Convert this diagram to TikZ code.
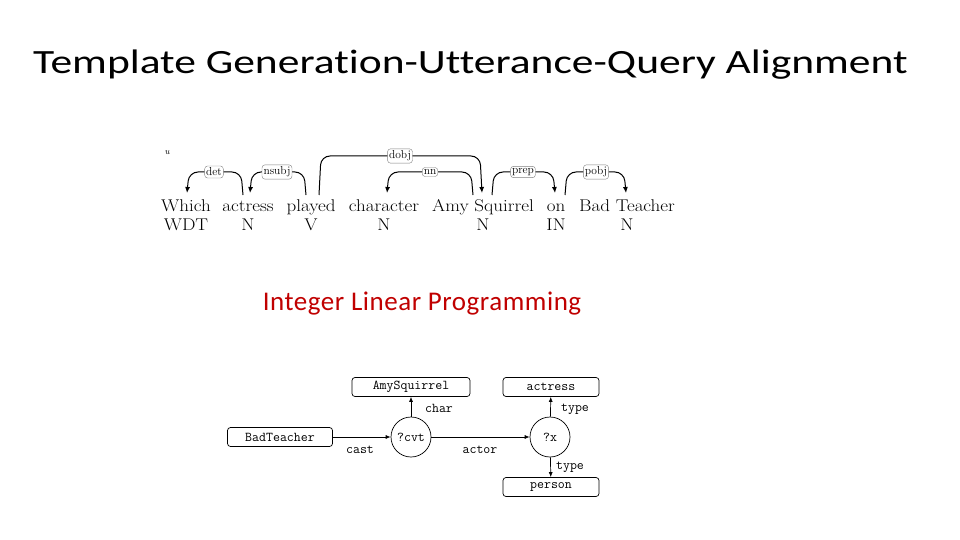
\documentclass[tikz,border=0pt]{standalone}
\usepackage{fontspec}
\newfontfamily\titlefont[Ligatures=NoCommon]{Carlito}
\newfontfamily\ilpfont[Ligatures=NoCommon,LetterSpace=2]{Carlito}
\usetikzlibrary{arrows.meta}
\definecolor{ilpred}{RGB}{192,0,0}
\newcommand{\depwd}[1]{\scalebox{1.12}[1]{#1}}
\begin{document}
\begin{tikzpicture}[x=1pt,y=-1pt,
  word/.style={anchor=base,inner sep=0pt,font=\fontsize{17}{17}\selectfont},
  deplab/.style={draw=gray,fill=white,rounded corners=3pt,inner xsep=1.5pt,inner ysep=2pt,font=\fontsize{11.5}{12}\selectfont},
  arc/.style={rounded corners=9pt,line width=1pt,-{Latex[length=6pt,width=5pt]}},
  kbox/.style={draw,rounded corners=3pt,line width=0.7pt,minimum width=#1,minimum height=19pt,inner sep=0pt,font=\ttfamily\fontsize{13.5}{14}\selectfont},
  kvar/.style={draw,circle,line width=0.7pt,minimum size=40pt,inner sep=0pt,font=\ttfamily\fontsize{13.5}{14}\selectfont},
  kedge/.style={line width=0.7pt,-{Latex[length=5pt,width=4pt]}},
  klab/.style={font=\ttfamily\fontsize{13.5}{14}\selectfont,inner sep=0pt}
]
\useasboundingbox (0,0) rectangle (960,540);
% title
\node[anchor=base west,inner sep=0pt,font=\titlefont\fontsize{34}{36}\selectfont] (title) at (33,74) {\scalebox{1.28}[1]{Template Generation-Utterance-Query Alignment}};
% dependency parse
\node[anchor=base,inner sep=0pt,font=\itshape\fontsize{9}{9}\selectfont] (u) at (167,155) {u};
\node[word] (w1) at (186,211) {\depwd{Which}};
\node[word] (w2) at (248,211) {\depwd{actress}};
\node[word] (w3) at (311,211) {\depwd{played}};
\node[word] (w4) at (384,211) {\depwd{character}};
\node[word] (w5) at (483,211) {\depwd{Amy Squirrel}};
\node[word] (w6) at (556,211) {\depwd{on}};
\node[word] (w7) at (627,211) {\depwd{Bad Teacher}};
\node[word] (p1) at (186,230) {\depwd{WDT}};
\node[word] (p2) at (248,230) {\depwd{N}};
\node[word] (p3) at (311,230) {\depwd{V}};
\node[word] (p4) at (384,230) {\depwd{N}};
\node[word] (p5) at (483,230) {\depwd{N}};
\node[word] (p6) at (556,230) {\depwd{IN}};
\node[word] (p7) at (627,230) {\depwd{N}};
% arcs
\coordinate (a1s) at (243,195); \coordinate (a1e) at (187,193);
\coordinate (a2s) at (306,195); \coordinate (a2e) at (250,193);
\coordinate (a3s) at (319,195); \coordinate (a3e) at (482,193);
\coordinate (a4s) at (473,195); \coordinate (a4e) at (387,193);
\coordinate (a5s) at (492,195); \coordinate (a5e) at (555,193);
\coordinate (a6s) at (565,195); \coordinate (a6e) at (626,193);
\draw[arc] (a1s) -- ([xshift=-2]a1s |- 0,172) -- ([xshift=2]a1e |- 0,172) -- (a1e);
\draw[arc] (a2s) -- ([xshift=-2]a2s |- 0,172) -- ([xshift=2]a2e |- 0,172) -- (a2e);
\draw[arc] (a3s) -- ([xshift=2]a3s |- 0,156) -- ([xshift=-2]a3e |- 0,156) -- (a3e);
\draw[arc] (a4s) -- ([xshift=-2]a4s |- 0,172) -- ([xshift=2]a4e |- 0,172) -- (a4e);
\draw[arc] (a5s) -- ([xshift=2]a5s |- 0,172) -- ([xshift=-2]a5e |- 0,172) -- (a5e);
\draw[arc] (a6s) -- ([xshift=2]a6s |- 0,172) -- ([xshift=-2]a6e |- 0,172) -- (a6e);
\node[deplab] (l1) at (214,172) {det};
\node[deplab] (l2) at (277,172) {nsubj};
\node[deplab] (l3) at (400,156) {dobj};
\node[deplab] (l4) at (430,172) {nn};
\node[deplab] (l5) at (523,172) {prep};
\node[deplab] (l6) at (596,172) {pobj};
% ILP
\node[anchor=base,inner sep=0pt,text=ilpred,font=\ilpfont\fontsize{27}{28}\selectfont] (ilp) at (422,310) {Integer Linear Programming};
% query graph
\node[kbox=118pt] (amy) at (411,387) {AmySquirrel};
\node[kbox=96pt] (act) at (551,387) {actress};
\node[kbox=105pt] (bad) at (280,437) {BadTeacher};
\node[kvar] (cvt) at (411,437) {?cvt};
\node[kvar] (x) at (550,437) {?x};
\node[kbox=96pt] (per) at (551,487) {person};
\draw[kedge] (cvt) -- (amy);
\draw[kedge] (x) -- (act);
\draw[kedge] (bad) -- (cvt);
\draw[kedge] (cvt) -- (x);
\draw[kedge] (x) -- (per);
\node[klab] (lchar) at (439,408) {char};
\node[klab] (ltype1) at (575,409) {type};
\node[klab] (lcast) at (360,450) {cast};
\node[klab] (lactor) at (480,450) {actor};
\node[klab] (ltype2) at (570,467) {type};
\end{tikzpicture}
\end{document}
